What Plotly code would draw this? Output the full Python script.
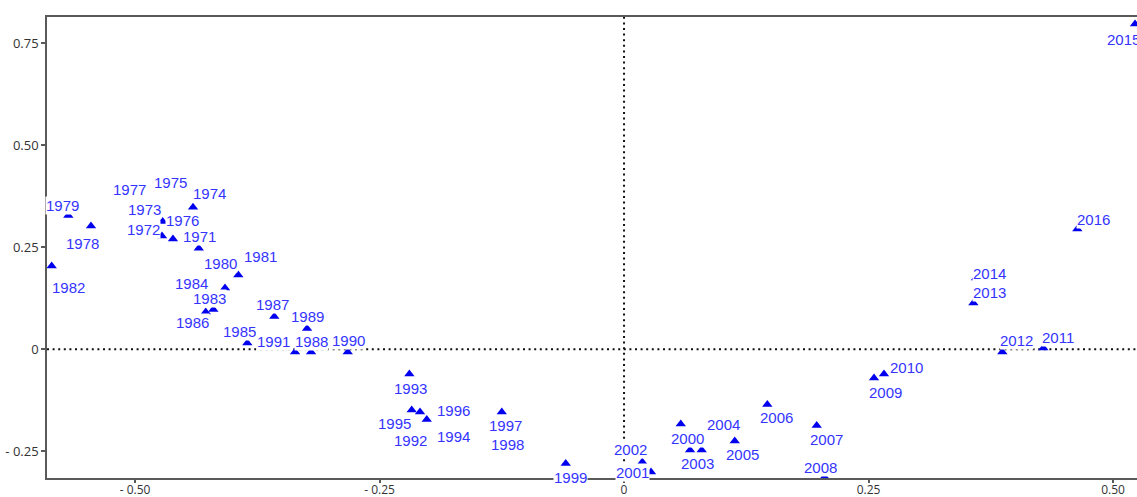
import plotly.graph_objects as go

# Factor map coordinates of each year (axis 1 = x, axis 2 = y)
years = [str(y) for y in range(1971, 2017)]
axis1 = [
    -0.4348, -0.4724, -0.4717, -0.4407, -0.4642, -0.4612, -0.5031, -0.5450, -0.5682, -0.4080,
    -0.3944, -0.5852, -0.4199, -0.4356, -0.3852, -0.4277, -0.3576, -0.3200, -0.3241, -0.2825,
    -0.3364, -0.2086, -0.2195, -0.2017, -0.2171, -0.1800, -0.1250, -0.1237, -0.0596, 0.0580,
    0.0276, 0.0187, 0.0675, 0.0794, 0.1132, 0.1465, 0.1970, 0.2050, 0.2556, 0.2658,
    0.4288, 0.3868, 0.3572, 0.3599, 0.5225, 0.4635,
]
axis2 = [
    0.2475, 0.2777, 0.3130, 0.3480, 0.4051, 0.2701, 0.3880, 0.3022, 0.3277, 0.1502,
    0.1821, 0.2042, 0.0973, 0.1625, 0.0154, 0.0914, 0.0804, -0.0066, 0.0512, -0.0066,
    -0.0066, -0.1537, -0.0605, -0.1721, -0.1488, -0.1463, -0.1537, -0.1929, -0.2799, -0.1831,
    -0.3007, -0.2762, -0.2468, -0.2468, -0.2248, -0.1353, -0.1868, -0.3130, -0.0703, -0.0605,
    0.0032, -0.0066, 0.1135, 0.1748, 0.7973, 0.2949,
]

x_ticks = [-0.5, -0.25, 0, 0.25, 0.5]
x_tick_text = ["- 0.50", "- 0.25", "0", "0.25", "0.50"]
y_ticks = [-0.25, 0, 0.25, 0.5, 0.75]
y_tick_text = ["- 0.25", "0", "0.25", "0.50", "0.75"]

# Label placement relative to each marker, in screen pixels (dx right, dy down)
label_offsets = {
    "1971": (1, -13), "1972": (-19, -8), "1973": (-18, -13), "1974": (16, -15),
    "1975": (0, -3), "1976": (10, -20), "1977": (-2, -3), "1978": (-9, 16),
    "1979": (-6, -11), "1980": (-5, -26), "1981": (22, -20), "1982": (17, 20),
    "1983": (-4, -12), "1984": (-7, -1), "1985": (-8, -13), "1986": (-13, 9),
    "1987": (-2, -13), "1988": (0, -12), "1989": (0, -12.5), "1990": (1, -13),
    "1991": (-22, -12), "1992": (-10, 27), "1993": (1, 13), "1994": (27, 16),
    "1995": (-17, 12), "1996": (6, 0), "1997": (4, 12), "1998": (4, 15),
    "1999": (5, 13), "2000": (7, 13), "2001": (-19, -1), "2002": (-12, -14),
    "2003": (7, 12), "2004": (22, -27), "2005": (8, 12), "2006": (9, 12),
    "2007": (10, 13), "2008": (-4, -11), "2009": (11, 13), "2010": (23, -8),
    "2011": (15, -12), "2012": (14, -13), "2013": (16, -12), "2014": (13, -6),
    "2015": (-12, 14), "2016": (16, -11),
}

fig = go.Figure()
fig.add_trace(go.Scatter(
    x=axis1, y=axis2, mode="markers", text=years,
    marker=dict(symbol="triangle-up", size=9, color="#0000ee", line=dict(width=0)),
    hoverinfo="text", showlegend=False,
))

annotations = []
for yr, xv, yv in zip(years, axis1, axis2):
    dx, dy = label_offsets[yr]
    annotations.append(dict(
        x=xv, y=yv, xref="x", yref="y", text=yr, showarrow=False,
        xshift=dx, yshift=-(dy + 1),
        font=dict(family="Liberation Sans, Arial, sans-serif", size=15, color="#3434ff"),
        bgcolor="white", borderpad=0,
    ))

dotted = dict(color="#111111", width=2, dash="2px,3.6px")
shapes = [
    dict(type="line", xref="x", yref="paper", x0=0, x1=0, y0=0, y1=1, line=dotted, layer="below"),
    dict(type="line", xref="paper", yref="y", x0=0, x1=1, y0=0, y1=0, line=dotted, layer="below"),
]

axis_font = dict(family="Open Sans, DejaVu Sans, sans-serif", size=13, color="#333333")
fig.update_layout(
    width=1137, height=497,
    margin=dict(l=47, r=0, t=17, b=19),
    paper_bgcolor="white", plot_bgcolor="white",
    annotations=annotations, shapes=shapes,
    xaxis=dict(
        range=[-0.59, 0.5245], tickvals=x_ticks, ticktext=x_tick_text, automargin=False,
        showgrid=False, zeroline=False, showline=True, linecolor="#5a5a5a", linewidth=1.5,
        mirror=True, ticks="outside", ticklen=3, tickcolor="#5a5a5a", tickwidth=1.5,
        tickfont=dict(family="Open Sans, DejaVu Sans, sans-serif", size=12, color="#333333"),
        ticklabelstandoff=-3,
    ),
    yaxis=dict(
        range=[-0.3154, 0.8145], tickvals=y_ticks, ticktext=y_tick_text, automargin=False,
        showgrid=False, zeroline=False, showline=True, linecolor="#5a5a5a", linewidth=1.5,
        ticks="outside", ticklen=4, tickcolor="#5a5a5a", tickwidth=1.5,
        tickfont=axis_font,
    ),
)

fig.write_html("out.html")
